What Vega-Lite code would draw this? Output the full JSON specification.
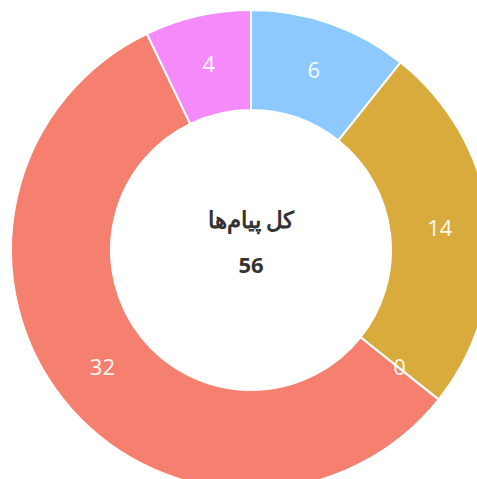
{
  "$schema": "https://vega.github.io/schema/vega-lite/v6.json",
  "width": 502,
  "height": 500,
  "autosize": {"type": "none"},
  "padding": 0,
  "background": "white",
  "view": {"stroke": null},
  "layer": [
    {
      "data": {"values": [
        {"category": "A", "value": 6, "order": 1},
        {"category": "B", "value": 14, "order": 2},
        {"category": "C", "value": 0, "order": 3},
        {"category": "D", "value": 32, "order": 4},
        {"category": "E", "value": 4, "order": 5}
      ]},
      "encoding": {
        "theta": {"field": "value", "type": "quantitative", "stack": true},
        "order": {"field": "order", "type": "quantitative"},
        "color": {
          "field": "category",
          "type": "nominal",
          "scale": {"domain": ["A", "B", "C", "D", "E"], "range": ["#8DC9FF", "#D8AB3C", "#9AD0A0", "#F5806F", "#F58AFB"]},
          "legend": null
        }
      },
      "layer": [
        {"mark": {"type": "arc", "outerRadius": 240, "innerRadius": 140, "stroke": "white", "strokeWidth": 2}},
        {
          "mark": {"type": "text", "radius": 190, "fontSize": 22, "font": "Noto Sans", "fill": "#ffffff", "fillOpacity": 0.92},
          "encoding": {"text": {"field": "value", "type": "quantitative"}, "color": {"value": "#ffffff"}}
        }
      ]
    },
    {
      "data": {"values": [{"label": "کل پیام‌ها"}]},
      "mark": {"type": "text", "dy": -29, "fontSize": 23, "fontWeight": "bold", "font": "Noto Sans", "color": "#333333"},
      "encoding": {"text": {"field": "label", "type": "nominal"}}
    },
    {
      "data": {"values": [{"total": 56}]},
      "mark": {"type": "text", "dy": 16, "fontSize": 22, "fontWeight": "bold", "font": "Noto Sans", "color": "#333333"},
      "encoding": {"text": {"field": "total", "type": "quantitative"}}
    }
  ]
}
